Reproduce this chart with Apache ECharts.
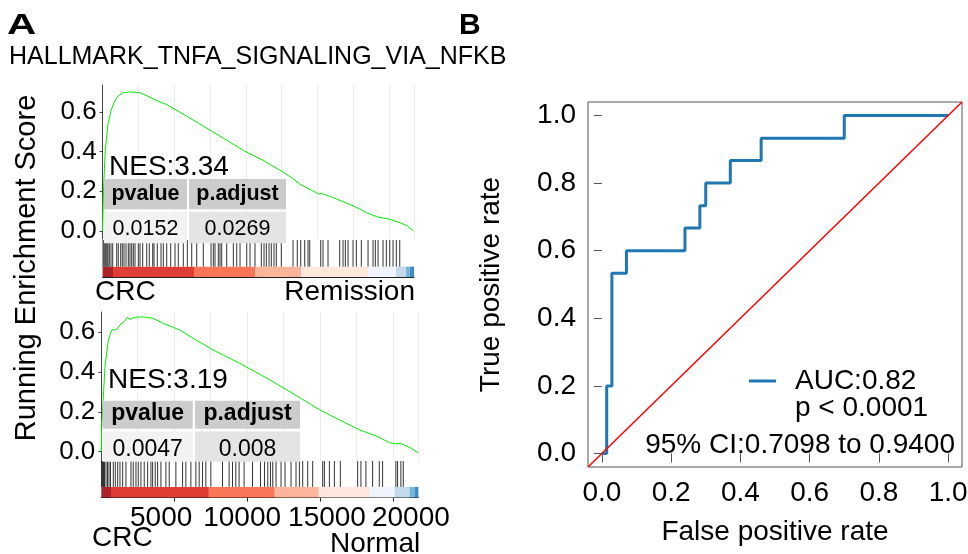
<!DOCTYPE html>
<html><head><meta charset="utf-8">
<script src="https://cdn.jsdelivr.net/npm/echarts@6/dist/echarts.min.js"></script>
<style>html,body{margin:0;padding:0;background:#fff}#c{width:968px;height:554px}</style>
</head><body><div id="c"></div>
<script>
// ---------------- DATA ----------------
const geneSetName = 'HALLMARK_TNFA_SIGNALING_VIA_NFKB';
const nRanks = 21750;
const esTicks = [0, 0.2, 0.4, 0.6];
const rankTicks = [5000, 10000, 15000, 20000];
const groupLabels = [['CRC', 'Remission'], ['CRC', 'Normal']];
const nesValues = ['3.34', '3.19'];
const pValues = ['0.0152', '0.0047'];
const pAdjust = ['0.0269', '0.008'];

// top panel: CRC vs Remission
const topCurveRank = [0, 60, 180, 360, 590, 820, 1060, 1400, 1870, 2560, 3030, 3730, 4430, 5360, 6520, 7690, 8850, 10010, 11180, 12570, 13270, 13790, 14600, 15100, 15300, 15500, 16110, 17520, 18440, 19140, 20070, 20770, 21300, 21700];
const topCurveES   = [0, 0.20, 0.40, 0.53, 0.608, 0.65, 0.678, 0.695, 0.70, 0.697, 0.683, 0.658, 0.638, 0.60, 0.55, 0.50, 0.449, 0.399, 0.357, 0.298, 0.265, 0.235, 0.205, 0.186, 0.19, 0.184, 0.168, 0.126, 0.092, 0.072, 0.059, 0.042, 0.025, 0.0];
const topHits = [28, 98, 168, 237, 307, 377, 468, 587, 705, 985, 1096, 1264, 1376, 1494, 1634, 1795, 1913, 2032, 2144, 2263, 2493, 2612, 2800, 3080, 3261, 3499, 3589, 3820, 4078, 4239, 4476, 4756, 5056, 5286, 5635, 5915, 6222, 6571, 7032, 7570, 7730, 7849, 8080, 8198, 8317, 8666, 9127, 9365, 9595, 10063, 10293, 10642, 11082, 11271, 11432, 11620, 11781, 11969, 12130, 12479, 13296, 13596, 13834, 14113, 14344, 14462, 15230, 15391, 15740, 16557, 16788, 16949, 17137, 17486, 17716, 18066, 18534, 18883, 19044, 19232, 19581, 19812, 20049, 20279, 20510, 20747];
const topBarBreaks = [0, 726, 6383, 10642, 13855, 18534, 20489, 21187, 21466, 21750];

// bottom panel: CRC vs Normal
const botCurveRank = [0, 27, 253, 479, 712, 1055, 1281, 1623, 1781, 1966, 2308, 2877, 3562, 4247, 4932, 5390, 6300, 7671, 9500, 11781, 14069, 14980, 16350, 17720, 18860, 19774, 20000, 20230, 20500, 20800, 21300, 21715];
const botCurveES   = [0, 0.126, 0.427, 0.561, 0.611, 0.615, 0.637, 0.658, 0.675, 0.665, 0.675, 0.678, 0.67, 0.645, 0.625, 0.611, 0.57, 0.511, 0.444, 0.352, 0.251, 0.21, 0.159, 0.109, 0.079, 0.045, 0.042, 0.039, 0.042, 0.034, 0.015, -0.005];
const botHits = [14, 82, 151, 219, 322, 425, 527, 630, 822, 959, 1123, 1281, 1466, 1692, 2034, 2192, 2377, 2534, 2719, 2945, 3178, 3404, 3521, 3699, 3863, 4089, 4432, 4658, 5116, 5575, 5801, 6144, 6486, 6712, 6945, 7171, 7514, 8315, 8767, 9000, 9226, 9452, 9795, 10370, 10918, 11192, 11418, 11603, 11760, 11986, 12329, 12603, 13014, 13356, 13589, 13815, 14158, 14500, 15185, 15301, 15644, 15986, 16397, 17582, 17808, 18151, 18610, 19068, 19295, 20205, 20322, 20548, 20712];
const botBarBreaks = [0, 664, 7377, 11897, 14911, 18404, 20116, 21144, 21486, 21750];

// ROC panel
const rocFPR = [0, 0.014, 0.029, 0.071, 0.24, 0.283, 0.3, 0.371, 0.46, 0.7, 1.0];
const rocTPR = [0, 0.2, 0.533, 0.6, 0.667, 0.733, 0.8, 0.867, 0.933, 1.0, 1.0];
const rocTicks = [0, 0.2, 0.4, 0.6, 0.8, 1.0];
const aucText = 'AUC:0.82';
const pText = 'p < 0.0001';
const ciText = '95% CI:0.7098 to 0.9400';

// ---------------- STYLE ----------------
const FONT = 'Liberation Sans';
const barPalette = ['#a50f15', '#de2d26', '#fb6a4a', '#fcae91', '#fee5d9', '#eff3ff', '#bdd7e7', '#6baed6', '#3182bd'];
const RUG_SPLIT = 0.28; // fraction of the rug panel used by the colour bar

function segs(breaks) { const out = []; for (let i = 0; i < breaks.length - 1; i++) out.push([breaks[i], breaks[i + 1], i]); return out; }

function rugSeries(hits, ax, split) {
  return {
    type: 'custom', xAxisIndex: ax, yAxisIndex: ax, silent: true, z: 3,
    data: hits.map(h => [h, 1]), encode: { x: 0, y: 1 },
    renderItem: (p, api) => {
      const a = api.coord([api.value(0), split]);
      const b = api.coord([api.value(0), 1]);
      return { type: 'line', shape: { x1: a[0], y1: a[1], x2: b[0], y2: b[1] }, style: { stroke: '#000', lineWidth: 1, opacity: 0.8 } };
    }
  };
}
function barSeries(breaks, ax, split) {
  return {
    type: 'custom', xAxisIndex: ax, yAxisIndex: ax, silent: true, z: 2,
    data: segs(breaks), encode: { x: [0, 1] },
    renderItem: (p, api) => {
      const a = api.coord([api.value(0), split]);
      const b = api.coord([api.value(1), 0]);
      return { type: 'rect', shape: { x: a[0], y: a[1], width: b[0] - a[0], height: b[1] - a[1] }, style: { fill: barPalette[api.value(2)], opacity: 0.92 } };
    }
  };
}
function curveSeries(r, es, ax) {
  return { type: 'line', xAxisIndex: ax, yAxisIndex: ax, symbol: 'none', silent: true, z: 2,
    lineStyle: { color: '#00ee00', width: 1 }, data: r.map((v, i) => [v, es[i]]) };
}

function txt(x, y, text, size, extra) {
  const st = Object.assign({ text, fontSize: size, fontFamily: FONT, fill: '#000', align: 'left', verticalAlign: 'middle' }, (extra && extra.style) || {});
  return Object.assign({ type: 'text', x, y, z: 100, style: st }, (extra && extra.el) || {});
}
function rect(x1, y1, x2, y2, fill) {
  return { type: 'rect', z: 99, shape: { x: x1, y: y1, width: x2 - x1, height: y2 - y1 }, style: { fill } };
}
function table(cols, head, body, pv, pa, fs, headY, bodyY) {
  const els = [
    rect(cols[0][0], head[0], cols[0][1], head[1], '#cccccc'),
    rect(cols[1][0], head[0], cols[1][1], head[1], '#cccccc'),
    rect(cols[0][0], body[0], cols[0][1], body[1], '#f2f2f2'),
    rect(cols[1][0], body[0], cols[1][1], body[1], '#e4e4e4')
  ];
  const c0 = (cols[0][0] + cols[0][1]) / 2, c1 = (cols[1][0] + cols[1][1]) / 2;
  els.push(txt(c0, headY, 'pvalue', fs, { style: { align: 'center', fontWeight: 'bold' } }));
  els.push(txt(c1, headY, 'p.adjust', fs, { style: { align: 'center', fontWeight: 'bold' } }));
  els.push(txt(c0, bodyY, pv, fs, { style: { align: 'center' } }));
  els.push(txt(c1, bodyY, pa, fs, { style: { align: 'center' } }));
  return els;
}

const esAxisY = (grid, min, max) => ({
  gridIndex: grid, type: 'value', min, max,
  axisLine: { show: true, lineStyle: { color: '#444', width: 1 } },
  axisTick: { show: true, length: 3, customValues: esTicks, lineStyle: { color: '#444' } },
  axisLabel: { customValues: esTicks, formatter: v => v.toFixed(1), fontSize: 26, fontFamily: FONT, color: '#000', margin: 6 },
  splitLine: { show: false }
});
const esAxisX = grid => ({
  gridIndex: grid, type: 'value', min: 0, max: nRanks, interval: 2500,
  axisLine: { show: false }, axisTick: { show: false }, axisLabel: { show: false },
  splitLine: { show: true, lineStyle: { color: '#ebebeb', width: 1 } }
});
const hiddenY = grid => ({ gridIndex: grid, type: 'value', min: 0, max: 1, show: false });

const shifts = { 5000: 's0', 10000: 's1', 15000: 's2', 20000: 's3' };

const gridBase = { containLabel: false, outerBoundsMode: 'none' };
const option = {
  animation: false,
  backgroundColor: '#fff',
  grid: [
    Object.assign({ left: 102.6, top: 85, width: 311.5, height: 154 }, gridBase),
    Object.assign({ left: 102.6, top: 240, width: 311.5, height: 37 }, gridBase),
    Object.assign({ left: 101.3, top: 312, width: 317.1, height: 149 }, gridBase),
    Object.assign({ left: 101.3, top: 461, width: 317.1, height: 36.5 }, gridBase),
    Object.assign({ left: 588, top: 102, width: 374, height: 365, show: true, borderColor: '#555', borderWidth: 1, backgroundColor: 'transparent' }, gridBase)
  ],
  xAxis: [
    esAxisX(0),
    { gridIndex: 1, type: 'value', min: 0, max: nRanks, axisLine: { show: true, lineStyle: { color: '#222', width: 1 } }, axisTick: { show: false }, axisLabel: { show: false }, splitLine: { show: false } },
    esAxisX(2),
    { gridIndex: 3, type: 'value', min: 0, max: nRanks,
      axisLine: { show: true, lineStyle: { color: '#222', width: 1 } },
      axisTick: { show: true, length: 4, customValues: rankTicks, lineStyle: { color: '#222' } },
      axisLabel: { customValues: rankTicks, fontSize: 28, fontFamily: FONT, color: '#000', margin: 7,
        formatter: v => '{' + (shifts[v] || 's1') + '|' + v + '}',
        rich: {
          s0: { fontSize: 28, fontFamily: FONT, padding: [0, 26, 0, 0] },
          s1: { fontSize: 28, fontFamily: FONT, padding: [0, 10, 0, 0] },
          s2: { fontSize: 28, fontFamily: FONT, padding: [0, 0, 0, 14] },
          s3: { fontSize: 28, fontFamily: FONT, padding: [0, 0, 0, 36] }
        } },
      splitLine: { show: false } },
    { gridIndex: 4, type: 'value', min: -0.04, max: 1.04,
      name: 'False positive rate', nameLocation: 'middle', nameGap: 51,
      nameTextStyle: { fontSize: 28, fontFamily: FONT, color: '#000' },
      axisLine: { show: false },
      axisTick: { show: true, length: 9, customValues: rocTicks, lineStyle: { color: '#555' } },
      axisLabel: { customValues: rocTicks, formatter: v => v.toFixed(1), fontSize: 28, fontFamily: FONT, color: '#000', margin: 12 },
      splitLine: { show: false } }
  ],
  yAxis: [
    esAxisY(0, -0.04, 0.735),
    hiddenY(1),
    esAxisY(2, -0.047, 0.702),
    hiddenY(3),
    { gridIndex: 4, type: 'value', min: -0.04, max: 1.04,
      name: 'True positive rate', nameLocation: 'middle', nameGap: 83, nameRotate: 90,
      nameTextStyle: { fontSize: 28, fontFamily: FONT, color: '#000' },
      axisLine: { show: false },
      axisTick: { show: true, length: 8, customValues: rocTicks, lineStyle: { color: '#555' } },
      axisLabel: { customValues: rocTicks, formatter: v => v.toFixed(1), fontSize: 28, fontFamily: FONT, color: '#000', margin: 12 },
      splitLine: { show: false } }
  ],
  legend: {
    data: [aucText], left: 744, top: 362, icon: 'rect', itemWidth: 27, itemHeight: 3, selectedMode: false,
    formatter: '{a|{name}}',
    textStyle: { fontSize: 28, fontFamily: FONT, color: '#000', rich: { a: { fontSize: 28, fontFamily: FONT, color: '#000', padding: [0, 0, 0, 14] } } }
  },
  series: [
    curveSeries(topCurveRank, topCurveES, 0),
    barSeries(topBarBreaks, 1, RUG_SPLIT),
    rugSeries(topHits, 1, RUG_SPLIT),
    curveSeries(botCurveRank, botCurveES, 2),
    barSeries(botBarBreaks, 3, 0.29),
    rugSeries(botHits, 3, 0.29),
    { name: aucText, type: 'line', xAxisIndex: 4, yAxisIndex: 4, step: 'end', symbol: 'none', z: 3,
      lineStyle: { color: '#1f77b4', width: 3 }, itemStyle: { color: '#1f77b4' },
      data: rocFPR.map((f, i) => [f, rocTPR[i]]) },
    { name: 'ref', type: 'line', xAxisIndex: 4, yAxisIndex: 4, symbol: 'none', z: 4, silent: true,
      lineStyle: { color: '#ff0000', width: 1.5 }, itemStyle: { color: '#ff0000' },
      data: [[-0.04, -0.04], [1.04, 1.04]] }
  ],
  graphic: { elements: [].concat(
    [
      txt(7, 26, 'A', 30, { style: { fontWeight: 'bold' }, el: { scaleX: 1.35 } }),
      txt(459, 26, 'B', 30, { style: { fontWeight: 'bold' } }),
      txt(9, 57, geneSetName, 25),
      txt(27, 268, 'Running Enrichment Score', 29, { style: { align: 'center' }, el: { rotation: Math.PI / 2 } }),
      txt(109, 167, 'NES:' + nesValues[0], 28),
      txt(108, 380, 'NES:' + nesValues[1], 28),
      txt(95, 292, groupLabels[0][0], 28),
      txt(415, 292, groupLabels[0][1], 28, { style: { align: 'right' } }),
      txt(92, 538, groupLabels[1][0], 28),
      txt(330, 544, groupLabels[1][1], 28),
      txt(795, 408, pText, 28),
      txt(955, 445, ciText, 28, { style: { align: 'right' } })
    ],
    table([[104, 187], [189, 286]], [179, 209.3], [211.7, 243.3], pValues[0], pAdjust[0], 21.5, 194.5, 229),
    table([[102.7, 192.7], [195, 300]], [400.7, 428.7], [431.5, 461.7], pValues[1], pAdjust[1], 23, 414, 450)
  ) }
};
const chart = echarts.init(document.getElementById('c'), null, { renderer: 'canvas' });
chart.setOption(option);
</script></body></html>
